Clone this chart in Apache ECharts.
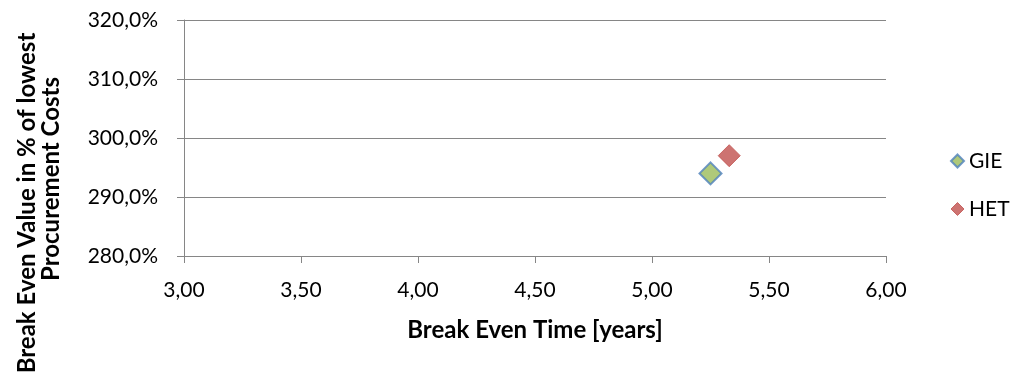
<!DOCTYPE html>
<html>
<head>
<meta charset="utf-8">
<script src="https://cdn.jsdelivr.net/npm/echarts@6/dist/echarts.min.js"></script>
<style>
  html, body { margin: 0; padding: 0; background: #ffffff; }
  #chart { width: 1013px; height: 379px; }
</style>
</head>
<body>
<div id="chart"></div>
<script>
// Break-even points per scenario
const seriesNames = ['GIE', 'HET'];
const breakEvenYears = [5.25, 5.33];      // Break Even Time [years]
const breakEvenPercent = [294.0, 297.0];  // % of lowest procurement costs

// Axis ranges
const xMin = 3.0, xMax = 6.0, xStep = 0.5;
const yMin = 280, yMax = 320, yStep = 10;

const xTitle = 'Break Even Time [years]';
const yTitleLines = ['Break Even Value in % of lowest', 'Procurement Costs'];

const FONT = 'Lato';
const AXIS_GREY = '#868686';
const TITLE_FONT = 'bold 24px ' + FONT;

const markerStyles = [
  { color: '#9BBB59', borderColor: '#4F81BD', borderWidth: 2 },
  { color: '#C0504D', borderColor: '#C0504D', borderWidth: 1 }
];

const commaNum = (v, d) => v.toFixed(d).replace('.', ',');

const chart = echarts.init(document.getElementById('chart'), null, { renderer: 'canvas' });

chart.setOption({
  backgroundColor: '#ffffff',
  animation: false,
  textStyle: { fontFamily: FONT },
  grid: { left: 184, right: 127, top: 20, bottom: 123, containLabel: false },
  xAxis: {
    type: 'value',
    min: xMin, max: xMax, interval: xStep,
    axisLine: { show: true, lineStyle: { color: AXIS_GREY, width: 1 } },
    axisTick: { show: true, inside: false, length: 7, lineStyle: { color: AXIS_GREY } },
    splitLine: { show: false },
    axisLabel: {
      margin: 24, color: '#000', fontSize: 21, fontFamily: FONT,
      formatter: v => commaNum(v, 2)
    },
    name: xTitle,
    nameLocation: 'middle',
    nameGap: 62,
    nameTextStyle: { color: '#000', fontSize: 24, fontWeight: 'bold', fontFamily: FONT }
  },
  yAxis: {
    type: 'value',
    min: yMin, max: yMax, interval: yStep,
    axisLine: { show: true, lineStyle: { color: AXIS_GREY, width: 1 } },
    axisTick: { show: true, inside: false, length: 7, lineStyle: { color: AXIS_GREY } },
    splitLine: { show: true, lineStyle: { color: AXIS_GREY, width: 1 } },
    axisLabel: {
      margin: 26, color: '#000', fontSize: 21, fontFamily: FONT,
      formatter: v => commaNum(v, 1) + '%'
    }
  },
  legend: {
    orient: 'vertical',
    left: 945,
    top: 144,
    itemGap: 24,
    itemWidth: 13,
    itemHeight: 13,
    textStyle: { color: '#000', fontSize: 21, fontFamily: FONT, lineHeight: 24 },
    data: seriesNames.map((n, i) => ({ name: n, icon: 'diamond', itemStyle: markerStyles[i] }))
  },
  graphic: [
    {
      type: 'text', x: 27, y: 203, rotation: Math.PI / 2,
      style: {
        text: yTitleLines[0], fill: '#000', font: TITLE_FONT,
        textAlign: 'center', textVerticalAlign: 'middle'
      }
    },
    {
      type: 'text', x: 51, y: 179, rotation: Math.PI / 2,
      style: {
        text: yTitleLines[1], fill: '#000', font: TITLE_FONT,
        textAlign: 'center', textVerticalAlign: 'middle'
      }
    }
  ],
  series: seriesNames.map((name, i) => ({
    name: name,
    type: 'scatter',
    symbol: 'diamond',
    symbolSize: 22,
    itemStyle: markerStyles[i],
    data: [[breakEvenYears[i], breakEvenPercent[i]]]
  }))
});
</script>
</body>
</html>
